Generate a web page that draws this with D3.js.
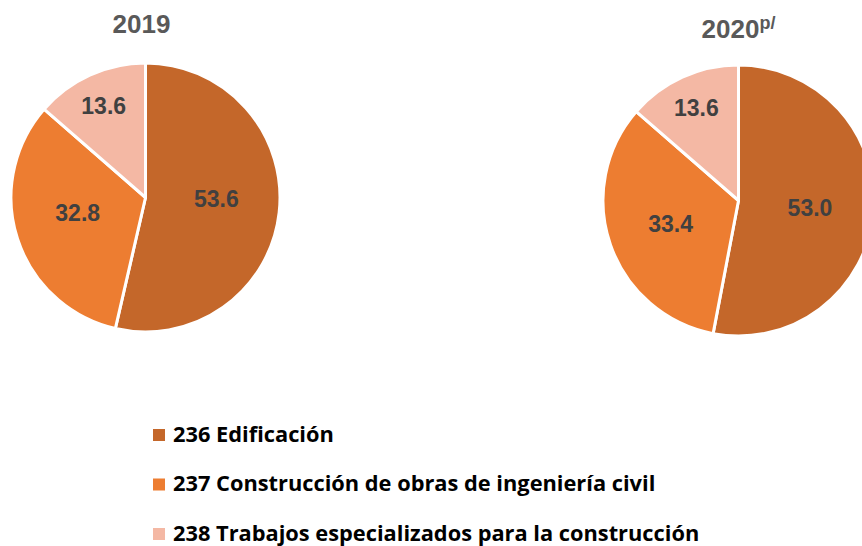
<!DOCTYPE html>
<html>
<head>
<meta charset="utf-8">
<script src="https://cdn.jsdelivr.net/npm/d3@7"></script>
<style>
  body { margin: 0; background: #fff; }
  svg { display: block; }
</style>
</head>
<body>
<svg id="chart" width="862" height="546"></svg>
<script>
const categories = ['236 Edificación', '237 Construcción de obras de ingeniería civil', '238 Trabajos especializados para la construcción']
const colors = ['#C4672A', '#ED7D31', '#F4B8A4']
const years = ['2019', '2020']
const yearNotes = ['', 'p/']
const values2019 = [53.6, 32.8, 13.6]
const values2020 = [53.0, 33.4, 13.6]

const svg = d3.select('#chart')
const color = d3.scaleOrdinal().domain(categories).range(colors)

// labelDy nudges the big-slice labels the way excel placed them
const pies = [
  {year: years[0], note: yearNotes[0], values: values2019, cx: 145.5, cy: 197.5, r: 134.5, ty: 33, labelDy: -7},
  {year: years[1], note: yearNotes[1], values: values2020, cx: 738.5, cy: 200.5, r: 135.5, ty: 38, labelDy: 0}
]

const pie = d3.pie().sort(null).value(d => d.value)

pies.forEach(p => {
  const data = categories.map((c, i) => ({cat: c, value: p.values[i]}))
  const arcs = pie(data)
  const arc = d3.arc().innerRadius(0).outerRadius(p.r)
  const g = svg.append('g').attr('transform', `translate(${p.cx},${p.cy})`)

  g.selectAll('path')
    .data(arcs)
    .enter()
    .append('path')
    .attr('d', arc)
    .attr('fill', d => color(d.data.cat))
    .attr('stroke', '#fff')
    .attr('stroke-width', 3)
    .attr('stroke-linejoin', 'round')

  // small slices get pushed out, like excel's best fit
  const labelPos = d => {
    const small = d.endAngle - d.startAngle < Math.PI / 2
    const rr = p.r * (small ? 0.75 : 0.53)
    const c = d3.arc().innerRadius(rr).outerRadius(rr).centroid(d)
    return [c[0], c[1] + (small ? 0 : p.labelDy)]
  }

  g.selectAll('text.val')
    .data(arcs)
    .enter()
    .append('text')
    .attr('class', 'val')
    .attr('transform', d => 'translate(' + labelPos(d) + ')')
    .attr('text-anchor', 'middle')
    .attr('dy', '0.36em')
    .style('font-family', '"Liberation Sans", Arial, sans-serif')
    .style('font-weight', 'bold')
    .style('font-size', '23px')
    .style('fill', '#404040')
    .text(d => d3.format('.1f')(d.data.value))

  const title = svg.append('text')
    .attr('x', p.cx - (p.note ? 0 : 4))
    .attr('y', p.ty)
    .attr('text-anchor', 'middle')
    .style('font-family', '"Liberation Sans", Arial, sans-serif')
    .style('font-weight', 'bold')
    .style('font-size', '26px')
    .style('fill', '#595959')
  title.append('tspan').text(p.year)
  if (p.note) {
    title.append('tspan')
      .attr('dy', '-0.5em')
      .style('font-size', '18px')
      .text(p.note)
  }
})

const legend = svg.append('g').attr('transform', 'translate(153,435)')
const item = legend.selectAll('g')
  .data(categories)
  .enter()
  .append('g')
  .attr('transform', (d, i) => `translate(0,${i * 49.5})`)

item.append('rect')
  .attr('x', 0)
  .attr('y', -6)
  .attr('width', 12)
  .attr('height', 12)
  .attr('fill', d => color(d))

item.append('text')
  .attr('x', 20)
  .attr('dy', '0.31em')
  .style('font-family', '"Open Sans", "Noto Sans", sans-serif')
  .style('font-weight', 'bold')
  .style('font-size', '21.8px')
  .style('fill', '#000')
  .text(d => d)
</script>
</body>
</html>
